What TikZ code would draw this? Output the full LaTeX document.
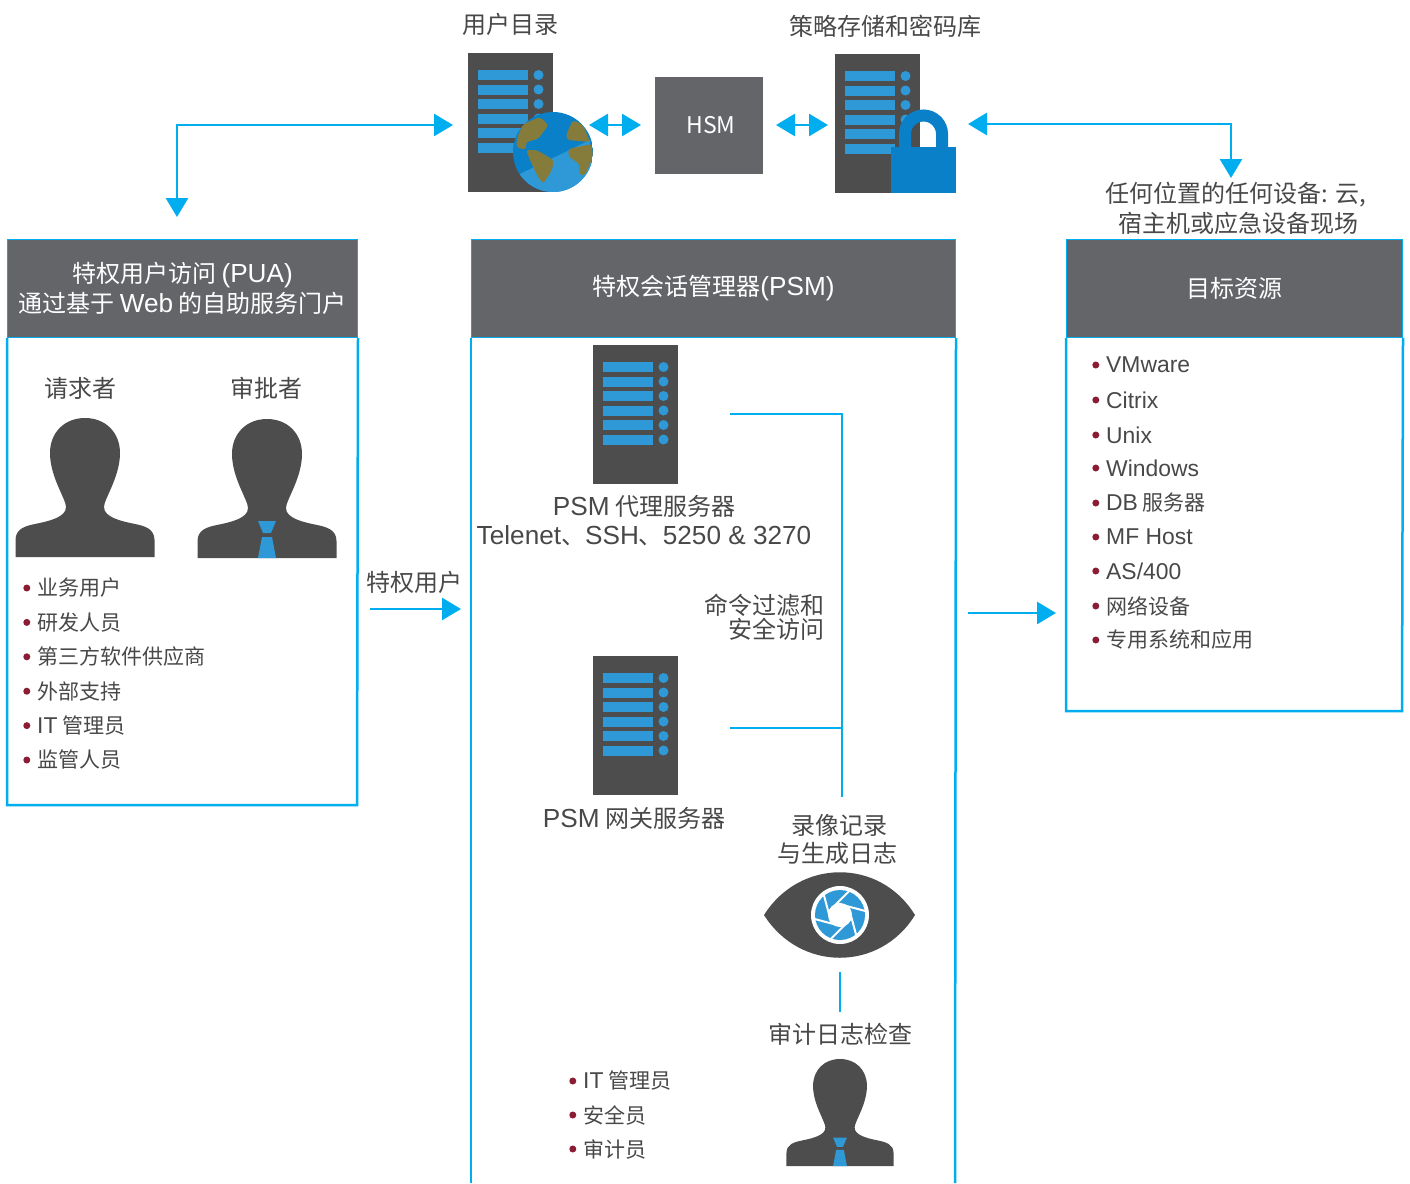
\documentclass[tikz,border=0pt]{standalone}
\usepackage{fontspec}
\setmainfont{Noto Sans CJK SC}
\newfontfamily\latfont[Scale=1.09]{Liberation Sans}
\newcommand{\la}[1]{{\latfont #1}}
\usetikzlibrary{arrows.meta, positioning}
\definecolor{linkblue}{HTML}{00AEEF}
\definecolor{headgrey}{HTML}{636569}
\definecolor{srvgrey}{HTML}{4D4D4D}
\definecolor{barblue}{HTML}{2E99D6}
\definecolor{lockblue}{HTML}{0A80C8}
\definecolor{landolive}{HTML}{857C3B}
\definecolor{dotred}{HTML}{8A1C33}
\definecolor{inkgrey}{HTML}{484848}
\tikzset{
	txt/.style={text=inkgrey, inner sep=0pt, align=center, font=\fontsize{24}{30}\selectfont},
	headbox/.style={fill=headgrey, draw=linkblue, line width=1pt, text=white, inner sep=0pt, align=center, anchor=north west, minimum height=98pt, font=\fontsize{24}{30}\selectfont},
	frame/.style={draw=linkblue, line width=2.5pt},
	link/.style={draw=linkblue, line width=2.2pt},
	biarrow/.style={draw=linkblue, line width=2.8pt, {Triangle[length=19pt,width=22pt]}-{Triangle[length=19pt,width=22pt]}},
	onearrow/.style={draw=linkblue, line width=2.8pt, -{Triangle[length=19pt,width=22pt]}},
	dotmark/.style={circle, fill=dotred, inner sep=0pt, minimum size=7pt, xshift=-6.5pt},
	listitem/.style={text=inkgrey, inner sep=0pt, anchor=west, font=\fontsize{21}{25}\selectfont, label={[dotmark]left:{}}},
	server/.pic={
		\fill[srvgrey] (0,0) rectangle (85,139);
		\foreach \r in {0,...,5} {
			\fill[barblue] (9.5,{17+14.5*\r}) rectangle (59.5,{27+14.5*\r});
			\fill[barblue] (70.5,{22+14.5*\r}) circle (5);
		}
	},
	person/.pic={
		\fill[srvgrey] (-69.5,0) -- (-69.5,-17) .. controls (-69.5,-28) and (-60,-31) .. (-50,-33)
			.. controls (-35,-36) and (-19,-40) .. (-19,-50)
			.. controls (-19,-58) and (-35,-80) .. (-35,-104)
			.. controls (-35,-125) and (-20,-139) .. (0,-139)
			.. controls (20,-139) and (35,-125) .. (35,-104)
			.. controls (35,-80) and (19,-58) .. (19,-50)
			.. controls (19,-40) and (35,-36) .. (50,-33)
			.. controls (60,-31) and (69.5,-28) .. (69.5,-17) -- (69.5,0) -- cycle;
	},
	tie/.pic={
		\fill[barblue] (-9,-37) -- (9,-37) -- (4,-25) -- (-4,-25) -- cycle;
		\fill[barblue] (-5,-21) -- (5,-21) -- (9,0) -- (-9,0) -- cycle;
	},
}
\begin{document}
\begin{tikzpicture}[x=1pt, y=-1pt]
	\useasboundingbox (0,0) rectangle (1410,1183);

	\pic (dirsrv) at (468,53) {server};
	\begin{scope}[shift={(553,152)}]
		\clip (0,0) circle (40);
		\fill[lockblue] (-40,-40) rectangle (40,40);
		\fill[barblue] (-33,22) -- (37,-12) -- (40,40) -- (-40,40) -- cycle;
		\fill[landolive, rounded corners=3pt] (-35.5,-15) -- (-30,-28) -- (-13,-35) -- (-4.5,-27) -- (-15,-13) -- (-27,-10) -- (-27,-2) -- (-37,-5) -- cycle;
		\fill[landolive, rounded corners=3pt] (-27,-2) -- (-16.5,-2) -- (0.7,8) -- (-1,18) -- (-10,32) -- (-16.5,22) -- (-23,8) -- cycle;
		\fill[landolive, rounded corners=3pt] (20,-32) -- (30,-27) -- (37,-10) -- (14.5,-12) -- (13,-17) -- cycle;
		\fill[landolive, rounded corners=3pt] (15,-3) -- (38.6,-8) -- (40,5) -- (32,23) -- (26.5,23) -- (26.5,12) -- (16,5) -- cycle;
	\end{scope}

	\pic (vaultsrv) at (835,54) {server};
	\draw[lockblue, line width=12pt] (905,150) -- (905,134) arc (180:360:18.5) -- (942,150);
	\fill[lockblue] (891,147) rectangle (956,193);

	\node[txt] (dirlabel) at (510,24) {用户目录};
	\node[txt] (vaultlabel) at (885,26) {策略存储和密码库};
	\node[fill=headgrey, text=white, inner sep=0pt, minimum width=108pt, minimum height=97pt, font=\fontsize{23}{28}\selectfont] (hsm) at (709,125.5) {\hspace*{4pt}HSM};
	\node[txt] (anydev) at (1236,208) {任何位置的任何设备: 云,\\\hspace*{5pt}宿主机或应急设备现场};

	\node[headbox, minimum width=350pt] (puahead) at (7,239) {特权用户访问 \la{(PUA)}\\通过基于 \la{Web} 的自助服务门户};
	\node[headbox, minimum width=484pt] (psmhead) at (471,239) {特权会话管理器\la{(PSM)}};
	\node[headbox, minimum width=336pt] (tgthead) at (1066,239) {目标资源};

	\coordinate (puabl) at (7,805);
	\coordinate (puabr) at (357,805);
	\coordinate (psmbl) at (471,1183);
	\coordinate (psmbr) at (955,1183);
	\coordinate (tgtbl) at (1066,711);
	\coordinate (tgtbr) at (1402,711);
	\draw[frame] (puahead.south west) -- (puabl) -- (puabr) -- (puahead.south east);
	\draw[frame] (psmhead.south west) -- (psmbl);
	\draw[frame] (psmhead.south east) -- (psmbr);
	\draw[frame] (tgthead.south west) -- (tgtbl) -- (tgtbr) -- (tgthead.south east);

	\node[txt] (reqlabel) at (80,388) {请求者};
	\node[txt] (applabel) at (266,388) {审批者};
	\pic (requser) at (85,557) {person};
	\pic (appuser) at (267,558) {person};
	\pic (apptie) at (267,558) {tie};
	\foreach \item [count=\i] in {业务用户, 研发人员, 第三方软件供应商, 外部支持, \la{IT} 管理员, 监管人员}
		\node[listitem] (who\i) at (37,{588+34.4*(\i-1)}) {\item};

	\node[txt] (privlabel) at (414,582) {特权用户};

	\pic (proxysrv) at (593,345) {server};
	\node[txt, font=\fontsize{24}{29}\selectfont] (proxylabel) at (644,521) {\la{PSM} 代理服务器\\\la{Telenet}、\la{SSH}、\la{5250 \& 3270}};
	\node[txt, align=right, anchor=east, font=\fontsize{24}{24}\selectfont] (cmdlabel) at (825,617) {命令过滤和\\安全访问};
	\pic (gatesrv) at (593,656) {server};
	\node[txt] (gatelabel) at (634,818) {\la{PSM} 网关服务器};
	\node[txt, font=\fontsize{24}{28}\selectfont] (reclabel) at (837,839) {\hspace*{4pt}录像记录\\与生成日志};

	\fill[srvgrey] (764,915) .. controls (800,858) and (880,858) .. (915,915) .. controls (880,972) and (800,972) .. (764,915) -- cycle;
	\begin{scope}[shift={(840,915)}]
		\fill[white] (0,0) circle (29);
		\fill[barblue] (0,0) circle (25);
		\fill[white] (0,0) circle (12);
		\foreach \a in {15,75,...,315}
			\draw[white, line width=2pt] (\a:12) -- (\a+96.4:26);
	\end{scope}
	\coordinate (eyefoot) at (840,972);
	\coordinate (auditTop) at (840,1012);
	\draw[link] (eyefoot) -- (auditTop);

	\node[txt] (auditlabel) at (840,1034) {审计日志检查};
	\foreach \item [count=\i] in {\la{IT} 管理员, 安全员, 审计员}
		\node[listitem] (aud\i) at (583,{1081+34*(\i-1)}) {\item};
	\pic[scale=.77] (audituser) at (840,1166) {person};
	\pic[scale=.77] (audittie) at (840,1166) {tie};

	\foreach \item/\ypos [count=\i] in {\la{VMware}/365, \la{Citrix}/400, \la{Unix}/435, \la{Windows}/468, \la{DB} 服务器/503, \la{MF Host}/537, \la{AS\slash 400}/571, 网络设备/606, 专用系统和应用/640}
		\node[listitem] (res\i) at (1106,\ypos) {\item};

	\coordinate (proxytap) at (730,414);
	\coordinate (proxybend) at (842,414);
	\coordinate (gatetap) at (730,728);
	\coordinate (gatejoin) at (842,728);
	\coordinate (recfoot) at (842,797);
	\draw[link] (proxytap) -- (proxybend) -- (recfoot);
	\draw[link] (gatetap) -- (gatejoin);

	\coordinate (puatip) at (177,217);
	\coordinate (puabend) at (177,125);
	\coordinate (dirtip) at (453,125);
	\draw[biarrow] (puatip) -- (puabend) -- (dirtip);
	\coordinate (dirgap) at (589,125);
	\coordinate (hsmgapl) at (641,125);
	\coordinate (hsmgapr) at (776,125);
	\coordinate (vaultgap) at (828,125);
	\draw[biarrow] (dirgap) -- (hsmgapl);
	\draw[biarrow] (hsmgapr) -- (vaultgap);
	\coordinate (lockgap) at (968,124);
	\coordinate (anybend) at (1231,124);
	\coordinate (anytip) at (1231,178);
	\draw[biarrow] (lockgap) -- (anybend) -- (anytip);
	\coordinate (privfrom) at (370,609);
	\coordinate (privto) at (461,609);
	\coordinate (tgtfrom) at (968,613);
	\coordinate (tgtto) at (1056,613);
	\draw[onearrow] (privfrom) -- (privto);
	\draw[onearrow] (tgtfrom) -- (tgtto);
\end{tikzpicture}
\end{document}
